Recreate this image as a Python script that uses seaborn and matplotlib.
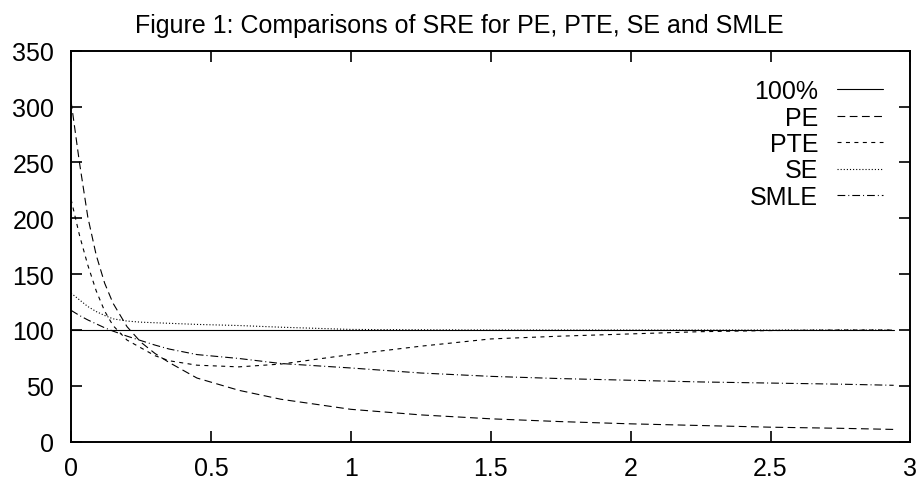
import numpy as np
import pandas as pd
import matplotlib
matplotlib.use('Agg')
import matplotlib.pyplot as plt
import seaborn as sns

# x grid
x = [0, 0.03, 0.06, 0.09, 0.12, 0.15, 0.2, 0.25, 0.3, 0.35, 0.45, 0.6,
     0.75, 1.0, 1.25, 1.5, 1.75, 2.0, 2.25, 2.5, 2.75, 2.94]

ref100 = [100, 100, 100, 100, 100, 100, 100, 100, 100, 100, 100, 100,
          100, 100, 100, 100, 100, 100, 100, 100, 100, 100]
pe = [305, 250, 201, 167, 142, 124, 103, 89, 79, 71, 57, 46,
      38, 29, 24, 20.5, 18, 16, 14.5, 13, 12, 11]
pte = [217, 185, 158, 135, 117, 104, 91, 84, 77, 72.5, 68.5, 67,
       69.5, 78, 85.5, 92, 94.5, 96.5, 98.5, 99.5, 100, 100]
se = [133, 127, 121, 116.5, 113, 110, 108, 107, 106.5, 106, 105, 104,
      102.5, 100.5, 100.2, 100, 100, 100, 100, 100, 100, 100]
smle = [117.6, 113, 109, 105.5, 102, 99, 94.5, 90.5, 86.5, 83, 78, 74.5,
        70, 66, 61.5, 58.5, 56.5, 55, 53.5, 52.5, 51.5, 50.5]

labels = ['100%', 'PE', 'PTE', 'SE', 'SMLE']
series = [ref100, pe, pte, se, smle]
styles = ['-', (0, (7, 4)), (0, (3.6, 4)), (0, (1, 1.8)), (0, (7, 2.7, 0.9, 2.7))]

sns.set_theme(style='ticks')
plt.rcParams['font.family'] = ['Liberation Sans', 'DejaVu Sans']
plt.rcParams['text.color'] = 'black'

fig = plt.figure(figsize=(9.19, 4.81), dpi=100)
ax = fig.add_axes([0.0773, 0.0796, 0.9907 - 0.0773, 0.8925 - 0.0796])

for lab, ys, ls in zip(labels, series, styles):
    df = pd.DataFrame({'x': x, 'y': ys})
    sns.lineplot(data=df, x='x', y='y', ax=ax, color='black', linewidth=0.8,
                 linestyle=ls, label=lab)

ax.set_xlim(0, 3)
ax.set_ylim(0, 350)
ax.set_xticks([0, 0.5, 1, 1.5, 2, 2.5, 3])
ax.set_xticklabels(['0', '0.5', '1', '1.5', '2', '2.5', '3'])
ax.set_yticks([0, 50, 100, 150, 200, 250, 300, 350])
ax.set_xlabel('')
ax.set_ylabel('')
for s in ax.spines.values():
    s.set_visible(True)
    s.set_linewidth(1.4)
    s.set_color('black')
ax.tick_params(direction='in', length=8, width=1.2, labelsize=18,
               top=True, right=True, colors='black')
ax.tick_params(axis='x', pad=10)
ax.tick_params(axis='y', pad=12)

fig.text(0.5, 1 - 33 / 481, 'Figure 1: Comparisons of SRE for PE, PTE, SE and SMLE',
         ha='center', va='baseline', fontsize=18, color='black')

handles, labs = ax.get_legend_handles_labels()
ax.legend(handles, labs, loc='upper right', bbox_to_anchor=(883 / 919, 1 - 80 / 481),
          bbox_transform=fig.transFigure, frameon=False, markerfirst=False,
          fontsize=18, handlelength=1.85, handletextpad=0.75, labelspacing=0.1,
          borderpad=0, borderaxespad=0, labelcolor='black')

fig.savefig('out.png', dpi=100)
